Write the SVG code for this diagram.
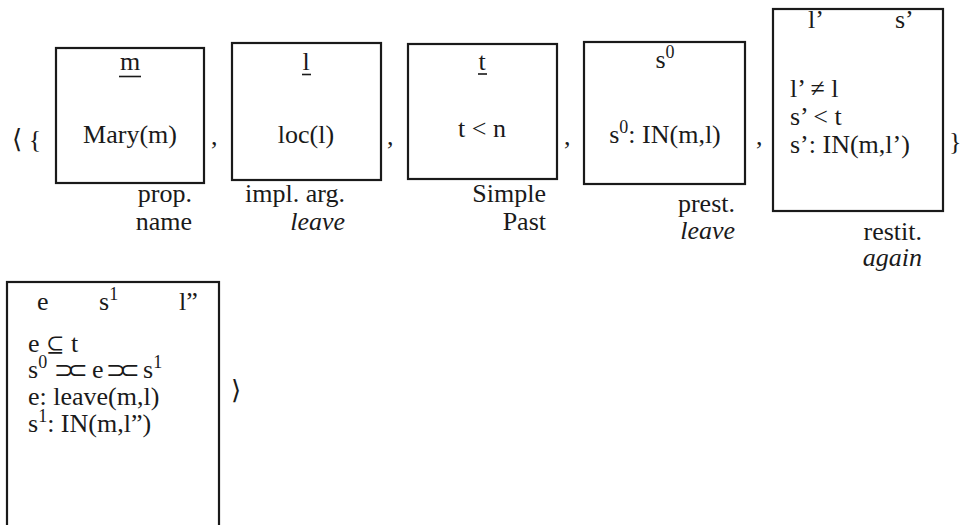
<svg xmlns="http://www.w3.org/2000/svg" width="960" height="525" viewBox="0 0 960 525" font-family="'Liberation Serif', 'Times New Roman', serif">
<style>
text{font-family:"Liberation Serif","Times New Roman","DejaVu Serif",serif;font-size:26px;fill:#1a1a1a}
.box{fill:none;stroke:#1a1a1a;stroke-width:2.2}
.ul{stroke:#1a1a1a;stroke-width:1.6}
.m{text-anchor:middle}
.r{text-anchor:end}
.i{font-style:italic}
.sup{font-size:18px}
.sym{font-family:"DejaVu Serif","DejaVu Sans",serif;font-size:22px}
.abut{font-family:"DejaVu Sans",sans-serif;font-size:24px;letter-spacing:-6.5px}
</style>
<rect width="960" height="525" fill="#fff"/>
<g id="punct">
<text x="12" y="148">⟨ {</text>
<text x="211" y="145">,</text>
<text x="387" y="145">,</text>
<text x="564" y="145">,</text>
<text x="756" y="145">,</text>
<text x="949" y="150">}</text>
<text x="231" y="399">⟩</text>
</g>
<g id="box-m">
<rect class="box" x="56" y="48" width="148" height="135"/>
<text class="m" x="130" y="70">m</text>
<line class="ul" x1="119" y1="76.5" x2="141" y2="76.5"/>
<text class="m" x="130" y="143">Mary(m)</text>
<text class="r" x="192" y="202">prop.</text>
<text class="r" x="192" y="230">name</text>
</g>
<g id="box-l">
<rect class="box" x="232" y="43" width="149" height="137"/>
<text class="m" x="306" y="70">l</text>
<line class="ul" x1="302" y1="74.5" x2="311" y2="74.5"/>
<text class="m" x="306" y="143">loc(l)</text>
<text class="r" x="345" y="202">impl. arg.</text>
<text class="r i" x="345" y="230">leave</text>
</g>
<g id="box-t">
<rect class="box" x="408" y="44" width="149" height="135"/>
<text class="m" x="482" y="70">t</text>
<line class="ul" x1="478" y1="74" x2="487" y2="74"/>
<text class="m" x="482" y="137">t &lt; n</text>
<text class="r" x="546" y="202">Simple</text>
<text class="r" x="546" y="230">Past</text>
</g>
<g id="box-s0">
<rect class="box" x="584" y="42" width="161" height="142"/>
<text class="m" x="665" y="68">s<tspan class="sup" dy="-10">0</tspan></text>
<text class="m" x="665" y="143">s<tspan class="sup" dy="-10">0</tspan><tspan dy="10">: IN(m,l)</tspan></text>
<text class="r" x="735" y="212">prest.</text>
<text class="r i" x="735" y="239">leave</text>
</g>
<g id="box-restit">
<rect class="box" x="773" y="9" width="170" height="202"/>
<text x="808" y="28">l’</text>
<text x="895" y="28">s’</text>
<text x="790" y="97">l’ ≠ l</text>
<text x="790" y="125">s’ &lt; t</text>
<text x="790" y="153">s’: IN(m,l’)</text>
<text class="r" x="922" y="240">restit.</text>
<text class="r i" x="922" y="266">again</text>
</g>
<g id="box-event">
<rect class="box" x="7" y="282" width="212" height="260"/>
<text x="37" y="310">e</text>
<text x="99" y="310">s<tspan class="sup" dy="-10">1</tspan></text>
<text x="179" y="310">l”</text>
<text x="28" y="352">e <tspan class="sym">⊆</tspan> t</text>
<text x="28" y="378">s<tspan class="sup" dy="-10">0</tspan></text>
<text class="abut" x="54" y="378">⊃⊂</text>
<text x="92" y="378">e</text>
<text class="abut" x="106" y="378">⊃⊂</text>
<text x="143" y="378">s<tspan class="sup" dy="-10">1</tspan></text>
<text x="28" y="405">e: leave(m,l)</text>
<text x="28" y="432">s<tspan class="sup" dy="-10">1</tspan><tspan dy="10">: IN(m,l”)</tspan></text>
</g>
<g id="connectors"/>
</svg>
